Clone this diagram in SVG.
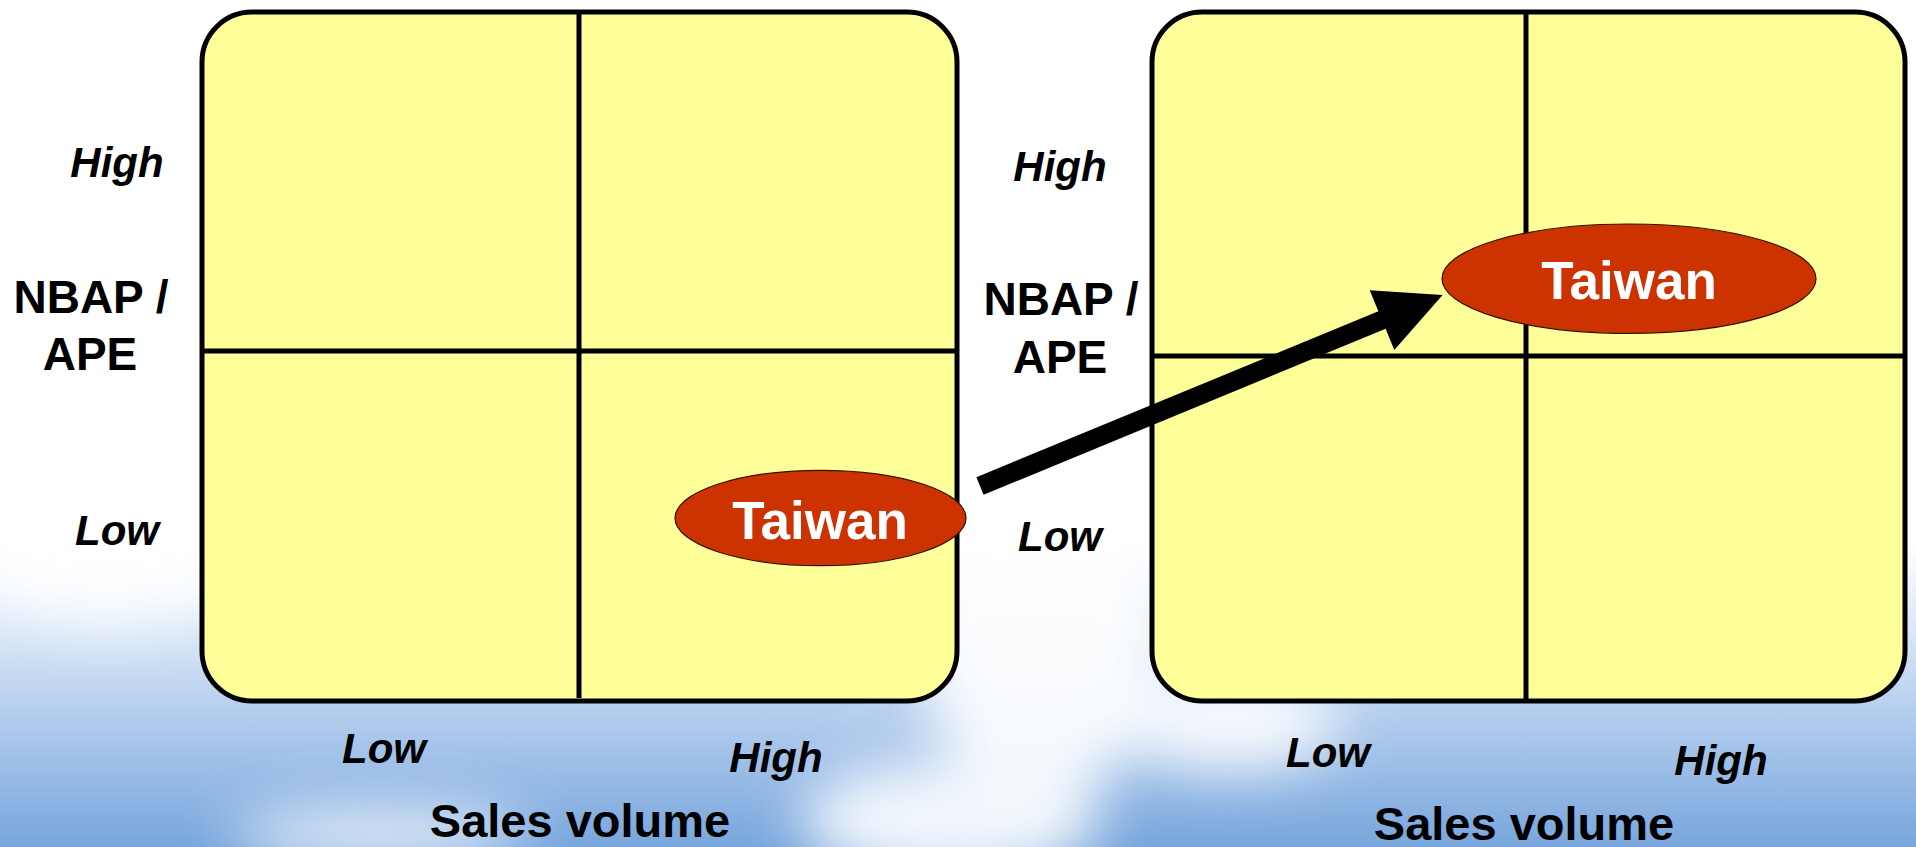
<svg xmlns="http://www.w3.org/2000/svg" width="1916" height="847" viewBox="0 0 1916 847">
  <defs>
    <linearGradient id="sky" x1="0" y1="0" x2="0" y2="1">
      <stop offset="0" stop-color="#ffffff"/>
      <stop offset="0.64" stop-color="#ffffff"/>
      <stop offset="0.74" stop-color="#dce8f7"/>
      <stop offset="0.86" stop-color="#adc9ec"/>
      <stop offset="1" stop-color="#78a6dc"/>
    </linearGradient>
    <filter id="blur" x="-50%" y="-50%" width="200%" height="200%">
      <feGaussianBlur stdDeviation="28"/>
    </filter>
    <style>
      .box { fill: #FFFF99; stroke: #000; stroke-width: 5; }
      .div { stroke: #000; stroke-width: 5; fill: none; }
      .oval { fill: #CC3300; stroke: #331100; stroke-width: 1.2; }
      .oval-t { font-family: "Liberation Sans", Arial, sans-serif; font-weight: bold; font-size: 53px; fill: #fff; text-anchor: middle; }
      .lv { font-family: "Liberation Sans", Arial, sans-serif; font-weight: bold; font-style: italic; font-size: 42px; fill: #000; text-anchor: middle; }
      .ax { font-family: "Liberation Sans", Arial, sans-serif; font-weight: bold; font-size: 46px; fill: #000; text-anchor: middle; }
      .sv { font-family: "Liberation Sans", Arial, sans-serif; font-weight: bold; font-size: 47px; fill: #000; text-anchor: middle; }
      .arrow { fill: #000; }
    </style>
  </defs>

  <g id="background">
    <rect x="0" y="0" width="1916" height="847" fill="url(#sky)"/>
    <g filter="url(#blur)" fill="#ffffff" opacity="0.9">
      <ellipse cx="1040" cy="640" rx="120" ry="160"/>
      <ellipse cx="950" cy="820" rx="150" ry="60"/>
      <ellipse cx="1230" cy="720" rx="110" ry="50"/>
      <ellipse cx="380" cy="835" rx="150" ry="25"/>
      <ellipse cx="110" cy="560" rx="140" ry="60"/>
    </g>
  </g>

  <g id="left-matrix">
    <rect class="box" x="202" y="12" width="755" height="689" rx="50" ry="50"/>
    <line class="div" x1="579" y1="12" x2="579" y2="698"/>
    <line class="div" x1="204" y1="351" x2="955" y2="351"/>
  </g>

  <g id="right-matrix">
    <rect class="box" x="1152" y="12" width="753" height="689" rx="50" ry="50"/>
    <line class="div" x1="1526" y1="12" x2="1526" y2="699"/>
    <line class="div" x1="1154" y1="356" x2="1903" y2="356"/>
  </g>

  <g id="left-labels">
    <text class="lv" x="117" y="177">High</text>
    <text class="ax" x="91" y="313">NBAP /</text>
    <text class="ax" x="90" y="370">APE</text>
    <text class="lv" x="117" y="545">Low</text>
    <text class="lv" x="384" y="763">Low</text>
    <text class="lv" x="776" y="772">High</text>
    <text class="sv" x="580" y="837">Sales volume</text>
  </g>

  <g id="right-labels">
    <text class="lv" x="1060" y="181">High</text>
    <text class="ax" x="1061" y="315">NBAP /</text>
    <text class="ax" x="1060" y="373">APE</text>
    <text class="lv" x="1060" y="551">Low</text>
    <text class="lv" x="1328" y="767">Low</text>
    <text class="lv" x="1721" y="775">High</text>
    <text class="sv" x="1524" y="840">Sales volume</text>
  </g>

  <g id="taiwan-before">
    <ellipse class="oval" cx="820.5" cy="518" rx="145.5" ry="47.7"/>
    <text class="oval-t" x="820" y="539">Taiwan</text>
  </g>

  <g id="taiwan-after">
    <ellipse class="oval" cx="1629" cy="278.7" rx="187" ry="54.7"/>
    <text class="oval-t" x="1629" y="299">Taiwan</text>
  </g>

  <g id="connectors">
    <polygon class="arrow" points="976.4,477.2 1378.4,311.2 1369.7,290.2 1442.6,295 1394.3,349.9 1385.6,328.8 983.6,494.8"/>
  </g>
</svg>
